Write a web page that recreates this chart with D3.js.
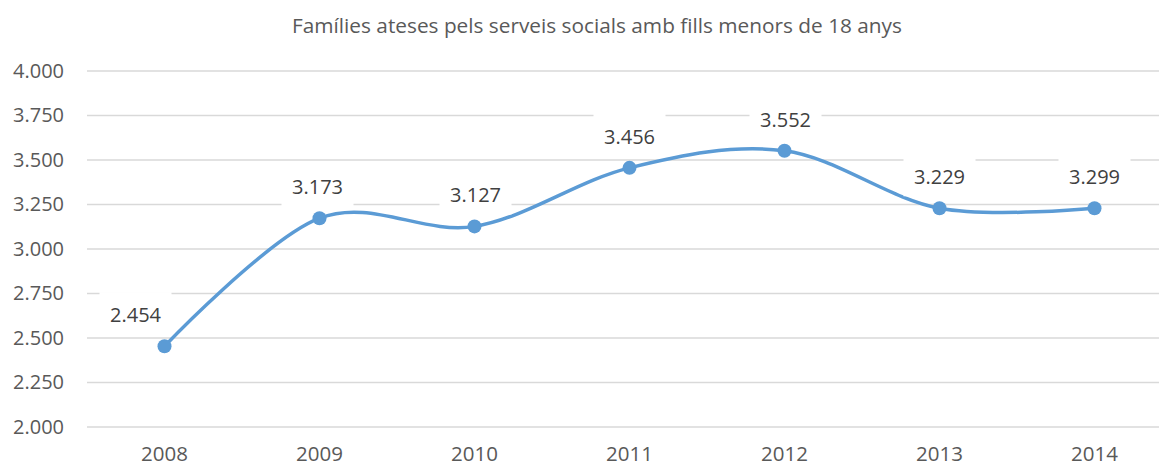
<!DOCTYPE html>
<html>
<head>
<meta charset="utf-8">
<script src="https://cdn.jsdelivr.net/npm/d3@7"></script>
<style>
  body { margin: 0; background: #fff; }
  svg { display: block; font-family: "Open Sans", sans-serif; }
</style>
</head>
<body>
<script>
var width = 1159;
var height = 466;

var title = 'Famílies ateses pels serveis socials amb fills menors de 18 anys';
var years = ['2008', '2009', '2010', '2011', '2012', '2013', '2014'];
var families = [2454, 3173, 3127, 3456, 3552, 3229, 3229];
var labels = ['2.454', '3.173', '3.127', '3.456', '3.552', '3.229', '3.299'];
var labelShift = [-29, -2, 1, 0, 1, 0, 0];
var yTicks = [2000, 2250, 2500, 2750, 3000, 3250, 3500, 3750, 4000];

var tickFmt = function(v) { return (v / 1000).toFixed(3); };

var svg = d3.select('body').append('svg')
    .attr('width', width)
    .attr('height', height);

var x = d3.scaleBand().domain(years).range([87, 1172]);
var y = d3.scaleLinear().domain([2000, 4000]).range([427, 71]);

// titol
svg.append('text')
    .attr('x', 597)
    .attr('y', 33)
    .attr('text-anchor', 'middle')
    .attr('font-size', 20.8)
    .attr('fill', '#595959')
    .text(title);

// linies de graella
svg.append('g')
    .selectAll('line')
    .data(yTicks)
    .join('line')
    .attr('x1', 87)
    .attr('x2', width)
    .attr('y1', function(d) { return y(d); })
    .attr('y2', function(d) { return y(d); })
    .attr('stroke', '#d9d9d9')
    .attr('stroke-width', 1.5);

var yAxis = svg.append('g')
    .attr('transform', 'translate(64,0)')
    .call(d3.axisLeft(y).tickValues(yTicks).tickFormat(tickFmt).tickSize(0).tickPadding(0));
yAxis.select('.domain').remove();
yAxis.selectAll('text')
    .attr('font-family', '"Open Sans", sans-serif')
    .attr('font-size', 20)
    .attr('fill', '#595959');

var xAxis = svg.append('g')
    .attr('transform', 'translate(0,427)')
    .call(d3.axisBottom(x).tickSize(0).tickPadding(19));
xAxis.select('.domain').remove();
xAxis.selectAll('text')
    .attr('font-family', '"Open Sans", sans-serif')
    .attr('font-size', 20.5)
    .attr('fill', '#595959');

var cx = function(d, i) { return x(years[i]) + x.bandwidth() / 2; };

var line = d3.line()
    .x(function(d, i) { return cx(d, i); })
    .y(function(d) { return y(d); })
    .curve(d3.curveCardinal.tension(0));

svg.append('path')
    .datum(families)
    .attr('d', line)
    .attr('fill', 'none')
    .attr('stroke', '#5b9bd5')
    .attr('stroke-width', 3.5)
    .attr('stroke-linecap', 'round');

svg.append('g')
    .selectAll('circle')
    .data(families)
    .join('circle')
    .attr('cx', cx)
    .attr('cy', function(d) { return y(d); })
    .attr('r', 7)
    .attr('fill', '#5b9bd5');

// etiquetes de dades amb fons blanc
var lab = svg.append('g')
    .selectAll('g')
    .data(families)
    .join('g')
    .attr('transform', function(d, i) {
        return 'translate(' + (cx(d, i) + labelShift[i]) + ',' + (y(d) - 24) + ')';
    });

lab.append('rect')
    .attr('x', -36)
    .attr('y', -30)
    .attr('width', 72)
    .attr('height', 42)
    .attr('fill', '#fff');

lab.append('text')
    .attr('text-anchor', 'middle')
    .attr('font-size', 20)
    .attr('fill', '#404040')
    .text(function(d, i) { return labels[i]; });
</script>
</body>
</html>
